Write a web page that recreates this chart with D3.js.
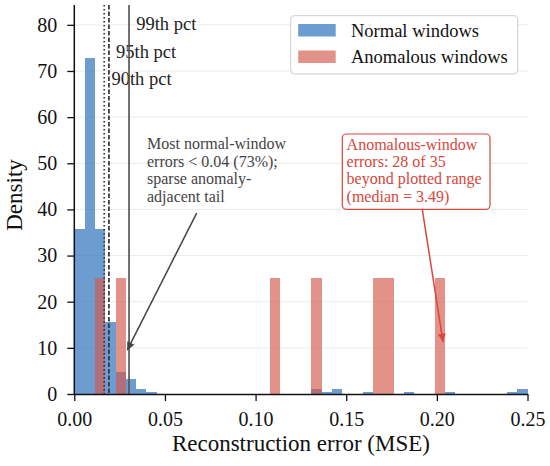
<!DOCTYPE html>
<html>
<head>
<meta charset="utf-8">
<script src="https://cdn.jsdelivr.net/npm/d3@7"></script>
<style>
  body { margin: 0; background: #fff; }
  text { font-family: "Liberation Serif", "Times New Roman", serif; }
</style>
</head>
<body>
<script>
// histogram bins: 44 equal bins from 0 to 0.25
var binLo = 0, binHi = 0.25, nBins = 44;

// densities, one per bin
var normalDensity = [35.7, 72.8, 35.7, 15.7, 4.8, 3.2, 1.1, 0.5, 0, 0,
                     0, 0, 0, 0, 0, 0, 0, 0, 0, 0,
                     0, 0, 0, 1.0, 0.5, 1.0, 0, 0, 0.5, 0,
                     0, 0, 0.5, 0, 0, 0, 0.5, 0, 0, 0,
                     0, 0, 0.5, 1.0];
var anomalousDensity = [0, 0, 25.1, 0, 25.1, 0, 0, 0, 0, 0,
                        0, 0, 0, 0, 0, 0, 0, 0, 0, 25.1,
                        0, 0, 0, 25.1, 0, 0, 0, 0, 0, 25.1,
                        25.1, 0, 0, 0, 0, 25.1, 0, 0, 0, 0,
                        0, 0, 0, 0];

// percentile thresholds of normal-window errors
var pctNames = ["90th pct", "95th pct", "99th pct"];
var pctValues = [0.0165, 0.0191, 0.0302];
var pctLabelY = [67, 72.8, 78.8];

var xTicks = [0, 0.05, 0.10, 0.15, 0.20, 0.25];
var yTicks = [0, 10, 20, 30, 40, 50, 60, 70, 80];

var seriesNames = ["Normal windows", "Anomalous windows"];

var noteNormal = ["Most normal-window", "errors < 0.04 (73%);", "sparse anomaly-", "adjacent tail"];
var noteAnom = ["Anomalous-window", "errors: 28 of 35", "beyond plotted range", "(median = 3.49)"];

var w = 550, h = 466;
var padL = 74.3, padR = 527.5, padT = 5, padB = 394;

var blue = "#3c7bc0", red = "#d4574a";
var redText = "#d9463a", grayText = "#444";

var svg = d3.select("body").append("svg")
    .attr("width", w)
    .attr("height", h);

var x = d3.scaleLinear().domain([0, 0.25]).range([padL, padR]);
var y = d3.scaleLinear().domain([0, 84.3]).range([padB, padT]);

var binW = (binHi - binLo) / nBins;
function edge(i) { return binLo + i * binW; }

// grid
svg.append("g").selectAll("line")
    .data(yTicks.slice(1))
    .enter().append("line")
    .attr("x1", padL).attr("x2", padR)
    .attr("y1", function (d) { return y(d); })
    .attr("y2", function (d) { return y(d); })
    .attr("stroke", "#ebebeb")
    .attr("stroke-width", 1);

// bars
function drawBars(data, color, op) {
    svg.append("g").selectAll("rect")
        .data(data.map(function (d, i) { return {i: i, d: d}; }).filter(function (o) { return o.d > 0; }))
        .enter().append("rect")
        .attr("x", function (o) { return x(edge(o.i)); })
        .attr("width", function (o) { return x(edge(o.i + 1)) - x(edge(o.i)); })
        .attr("y", function (o) { return y(o.d); })
        .attr("height", function (o) { return y(0) - y(o.d); })
        .attr("fill", color)
        .attr("fill-opacity", op)
        .attr("shape-rendering", "crispEdges");
}
drawBars(normalDensity, blue, 0.75);
drawBars(anomalousDensity, red, 0.65);

// percentile lines
var dashes = ["1.5,2.5", "4.5,2", null];
var lineCols = ["#333", "#333", "#555"];
pctValues.forEach(function (v, i) {
    svg.append("line")
        .attr("x1", x(v)).attr("x2", x(v))
        .attr("y1", padT).attr("y2", padB)
        .attr("stroke", lineCols[i])
        .attr("stroke-width", 1.7)
        .attr("stroke-dasharray", dashes[i]);
    svg.append("text")
        .attr("x", x(v) + 7.2)
        .attr("y", y(pctLabelY[i]))
        .attr("font-size", 18.5)
        .attr("fill", "#222")
        .text(pctNames[i]);
});

// axes
var xAxis = svg.append("g")
    .attr("transform", "translate(0," + padB + ")")
    .call(d3.axisBottom(x).tickValues(xTicks).tickFormat(d3.format(".2f")).tickSize(7).tickSizeOuter(0));
xAxis.selectAll("text").attr("font-size", 20).attr("dy", 0).attr("y", 32).attr("fill", "#111");

var yAxis = svg.append("g")
    .attr("transform", "translate(" + padL + ",0)")
    .call(d3.axisLeft(y).tickValues(yTicks).tickSize(7).tickPadding(10).tickSizeOuter(0));
yAxis.selectAll("text").attr("font-size", 20).attr("fill", "#111");

[xAxis, yAxis].forEach(function (g) {
    g.select(".domain").attr("stroke", "#111").attr("stroke-width", 1.5);
    g.selectAll(".tick line").attr("stroke", "#111").attr("stroke-width", 1.3);
    g.selectAll("text").style("font-family", "'Liberation Serif', 'Times New Roman', serif");
});
yAxis.select(".domain").attr("d", "M0," + padT + "V" + padB);

svg.append("text")
    .attr("x", (padL + padR) / 2)
    .attr("y", 451)
    .attr("text-anchor", "middle")
    .attr("font-size", 23)
    .attr("fill", "#111")
    .text("Reconstruction error (MSE)");

svg.append("text")
    .attr("transform", "translate(22,195) rotate(-90)")
    .attr("text-anchor", "middle")
    .attr("font-size", 23)
    .attr("fill", "#111")
    .text("Density");

// arrow markers
var defs = svg.append("defs");
function marker(id, col) {
    defs.append("marker")
        .attr("id", id)
        .attr("viewBox", "0 0 10 10")
        .attr("refX", 10).attr("refY", 5)
        .attr("markerWidth", 11).attr("markerHeight", 8)
        .attr("markerUnits", "userSpaceOnUse")
        .attr("orient", "auto")
        .append("path")
        .attr("d", "M0,0L10,5L0,10Z")
        .attr("fill", col);
}
marker("arrGray", grayText);
marker("arrRed", redText);

// normal-window note
noteNormal.forEach(function (s, i) {
    svg.append("text")
        .attr("x", x(0.0401))
        .attr("y", y(53.05) + i * 17.45)
        .attr("font-size", 16)
        .attr("fill", grayText)
        .text(s);
});
svg.append("line")
    .attr("x1", x(0.0675)).attr("y1", y(39.2))
    .attr("x2", x(0.0292)).attr("y2", y(9.5))
    .attr("stroke", grayText)
    .attr("stroke-width", 1.5)
    .attr("marker-end", "url(#arrGray)");

// anomalous note in a box
svg.append("rect")
    .attr("x", 342.3).attr("y", 134)
    .attr("width", 147.7).attr("height", 75.3)
    .attr("rx", 4)
    .attr("fill", "#fff")
    .attr("stroke", redText)
    .attr("stroke-width", 1.2);
noteAnom.forEach(function (s, i) {
    svg.append("text")
        .attr("x", x(0.1502))
        .attr("y", y(52.9) + i * 17.3)
        .attr("font-size", 16)
        .attr("fill", redText)
        .text(s);
});
svg.append("line")
    .attr("x1", x(0.192)).attr("y1", y(39.9))
    .attr("x2", x(0.2034)).attr("y2", y(11.3))
    .attr("stroke", redText)
    .attr("stroke-width", 1.5)
    .attr("marker-end", "url(#arrRed)");

// legend
var lg = svg.append("g").attr("transform", "translate(290.7,15.7)");
lg.append("rect")
    .attr("width", 227).attr("height", 58.3)
    .attr("rx", 4)
    .attr("fill", "#fff")
    .attr("fill-opacity", 0.9)
    .attr("stroke", "#ccc")
    .attr("stroke-width", 1);
[blue, red].forEach(function (c, i) {
    lg.append("rect")
        .attr("x", 7.5).attr("y", 8.3 + i * 26.5)
        .attr("width", 37.5).attr("height", 12.5)
        .attr("fill", c)
        .attr("fill-opacity", i == 0 ? 0.75 : 0.65);
    lg.append("text")
        .attr("x", 60.3).attr("y", 21 + i * 26.5)
        .attr("font-size", 18.5)
        .attr("fill", "#111")
        .text(seriesNames[i]);
});
</script>
</body>
</html>
